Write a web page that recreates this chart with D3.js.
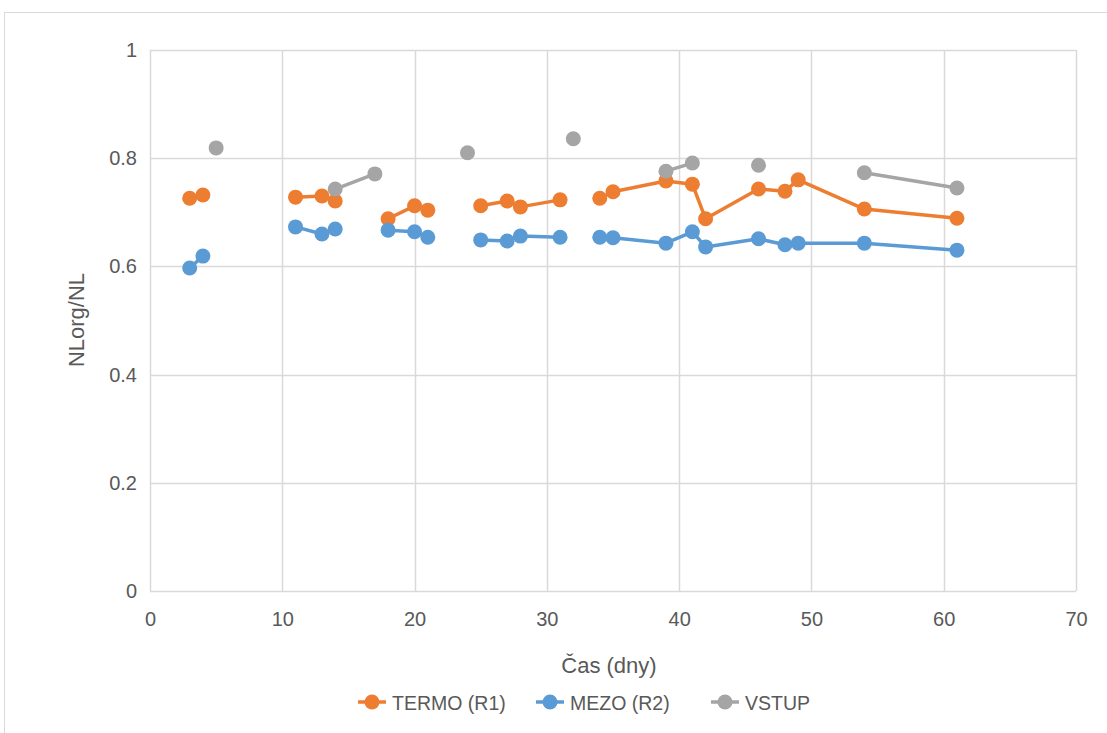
<!DOCTYPE html>
<html><head><meta charset="utf-8">
<script src="https://cdn.jsdelivr.net/npm/d3@7"></script>
<style>body{margin:0;background:#fff;} svg{display:block;}</style>
</head><body>
<svg id="c" width="1107" height="733"></svg>
<script>
const days  = [3,4,5,11,13,14,17,18,20,21,24,25,27,28,31,32,34,35,39,41,42,46,48,49,54,61];
const termo = [0.726,0.732,null,0.728,0.730,0.721,null,0.688,0.712,0.704,null,0.712,0.721,0.710,0.723,null,0.726,0.738,0.758,0.752,0.688,0.743,0.739,0.760,0.706,0.689];
const mezo  = [0.597,0.619,null,0.673,0.660,0.669,null,0.667,0.664,0.654,null,0.649,0.647,0.656,0.654,null,0.654,0.653,0.643,0.664,0.636,0.651,0.640,0.643,0.643,0.630];
const vstup = [null,null,0.819,null,null,0.743,0.771,null,null,null,0.810,null,null,null,null,0.836,null,null,0.776,0.791,null,0.787,null,null,0.773,0.745];
const seriesNames = ["TERMO (R1)","MEZO (R2)","VSTUP"];
const seriesColors = ["#ED7D31","#5B9BD5","#A5A5A5"];
const xTicks = [0,10,20,30,40,50,60,70];
const yTicks = [0,0.2,0.4,0.6,0.8,1];

const svg = d3.select("#c");
const font = "'Liberation Sans', Arial, sans-serif";
const tc = "#595959";
// chart border
svg.append("rect").attr("x",4.5).attr("y",12.5).attr("width",1110).attr("height",730)
  .attr("fill","#fff").attr("stroke","#D9D9D9");

const x = d3.scaleLinear().domain([0,70]).range([150,1076]);
const y = d3.scaleLinear().domain([0,1]).range([591,50]);

const g = svg.append("g");
// gridlines
g.selectAll(".vg").data(xTicks).join("line")
  .attr("x1",d=>Math.round(x(d))+0.5).attr("x2",d=>Math.round(x(d))+0.5)
  .attr("y1",y(1)).attr("y2",y(0)).attr("stroke","#D9D9D9").attr("stroke-width",1.5);
g.selectAll(".hg").data(yTicks).join("line")
  .attr("y1",d=>Math.round(y(d))+0.5).attr("y2",d=>Math.round(y(d))+0.5)
  .attr("x1",x(0)).attr("x2",x(70)).attr("stroke","#D9D9D9").attr("stroke-width",1.5);

// axes labels via d3 axes
const xAxis = d3.axisBottom(x).tickValues(xTicks).tickSize(0).tickPadding(21).tickFormat(d3.format("d"));
const gx = svg.append("g").attr("transform",`translate(0,${y(0)})`).call(xAxis);
gx.select(".domain").remove();
gx.selectAll("text").attr("fill",tc).style("font-family",font).style("font-size","20px");

const yAxis = d3.axisLeft(y).tickValues(yTicks).tickSize(0).tickPadding(13).tickFormat(d=>d===0||d===1?String(d):d3.format(".1f")(d));
const gy = svg.append("g").attr("transform",`translate(${x(0)},0)`).call(yAxis);
gy.select(".domain").remove();
gy.selectAll("text").attr("fill",tc).style("font-family",font).style("font-size","20px");

// titles
svg.append("text").attr("x",609).attr("y",673).attr("text-anchor","middle")
  .attr("fill",tc).style("font-family",font).style("font-size","22px").text("Čas (dny)");
svg.append("text").attr("transform","translate(84,320) rotate(-90)").attr("text-anchor","middle")
  .attr("fill",tc).style("font-family",font).style("font-size","22px").text("NLorg/NL");

// series
const allSeries = [termo, mezo, vstup];
const line = d3.line().defined(d=>d[1]!==null).x(d=>x(d[0])).y(d=>y(d[1]));
allSeries.forEach((vals,i)=>{
  const pts = days.map((d,j)=>[d,vals[j]]);
  svg.append("path").datum(pts).attr("d",line).attr("fill","none")
    .attr("stroke",seriesColors[i]).attr("stroke-width",3.5).attr("stroke-linejoin","round");
  svg.append("g").selectAll("circle").data(pts.filter(p=>p[1]!==null)).join("circle")
    .attr("cx",p=>x(p[0])).attr("cy",p=>y(p[1])).attr("r",7.5).attr("fill",seriesColors[i]);
});

// legend
const legX = [372, 550, 725];
seriesNames.forEach((n,i)=>{
  const lg = svg.append("g").attr("transform",`translate(${legX[i]},702)`);
  lg.append("line").attr("x1",-14).attr("x2",14).attr("y1",0).attr("y2",0)
    .attr("stroke",seriesColors[i]).attr("stroke-width",3.5);
  lg.append("circle").attr("cx",0).attr("cy",0).attr("r",7.5).attr("fill",seriesColors[i]);
  lg.append("text").attr("x",20).attr("y",8).attr("fill",tc)
    .style("font-family",font).style("font-size","19.5px").text(n);
});
</script>
</body></html>
